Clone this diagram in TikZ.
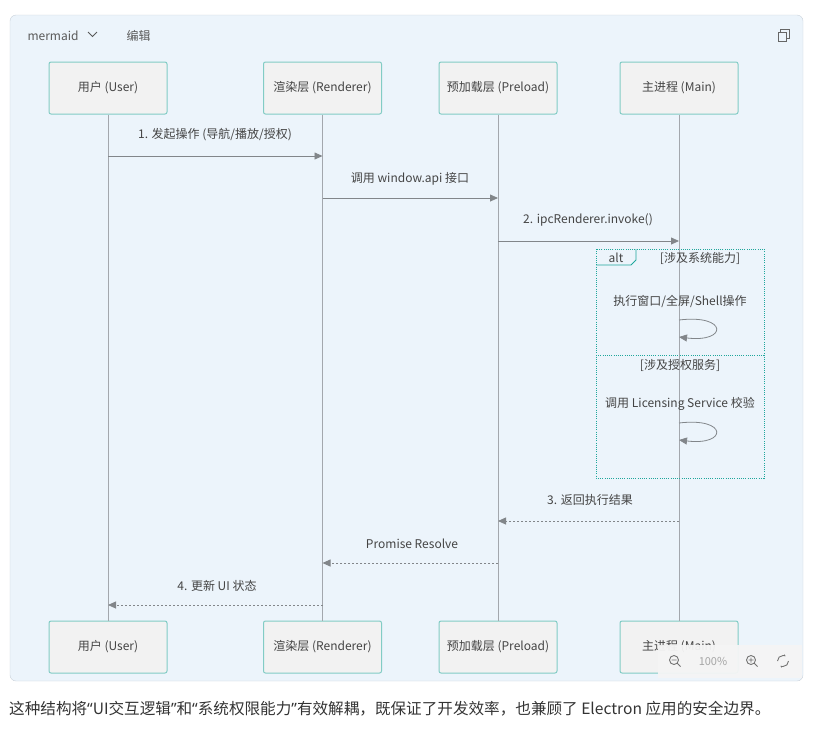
\documentclass[tikz,border=0pt]{standalone}
\usepackage{fontspec}
\setmainfont{Noto Sans CJK SC}
\newfontfamily\latinquote{Noto Sans}
\usepackage{xcolor}
\usetikzlibrary{positioning,arrows.meta}

\definecolor{panelbg}{HTML}{ECF4FB}
\definecolor{panelline}{HTML}{C9D1D9}
\definecolor{actorbg}{HTML}{F2F2F2}
\definecolor{actorline}{HTML}{82CCC5}
\definecolor{lifegrey}{HTML}{A3A7AD}
\definecolor{textgrey}{HTML}{444444}
\definecolor{altline}{HTML}{1FA79C}

\newcommand{\openq}{{\latinquote “}}
\newcommand{\closeq}{{\latinquote ”}}

\begin{document}
\begin{tikzpicture}[x=1pt, y=-1pt,
    every node/.style={font=\fontsize{12}{14}\selectfont, text=textgrey},
    actor/.style={draw=actorline, fill=actorbg, line width=1pt, rounded corners=2pt, minimum width=118pt, minimum height=52pt, inner sep=0pt},
    lifeline/.style={draw=lifegrey, line width=0.8pt},
    msg/.style={draw=lifegrey!80!black, line width=0.8pt, -{Triangle[length=8pt,width=7pt]}},
    reply/.style={msg, dash pattern=on 2pt off 2pt},
    altbox/.style={draw=altline, line width=1pt, dash pattern=on 1pt off 1.2pt},
    label/.style={inner sep=1pt}
]
\useasboundingbox (0,0) rectangle (824,734);

% panel
\filldraw[fill=panelbg, draw=panelline, rounded corners=6pt] (10,15) rectangle (803,681);
\node[anchor=west, text=black!65] (lang) at (24,36) {mermaid};
\draw[black!65, line width=0.8pt] (88,32) -- (92.5,36.5) -- (97,32);
\node[anchor=west, text=black!65] (edit) at (123,36) {编辑};
\draw[black!60, line width=0.9pt] (778,32) rectangle (786,41);
\draw[black!60, line width=0.9pt] (780,32) -- (780,29) -- (789,29) -- (789,38) -- (786,38);

% actors
\node[actor] (userTop) at (108,88) {用户 (User)};
\node[actor] (rendTop) at (322.5,88) {渲染层 (Renderer)};
\node[actor] (preTop)  at (498,88) {预加载层 (Preload)};
\node[actor] (mainTop) at (679,88) {主进程 (Main)};
\node[actor] (userBot) at (108,647) {用户 (User)};
\node[actor] (rendBot) at (322.5,647) {渲染层 (Renderer)};
\node[actor] (preBot)  at (498,647) {预加载层 (Preload)};
\node[actor] (mainBot) at (679,647) {主进程 (Main)};

% lifelines
\draw[lifeline] (userTop) -- (userBot);
\draw[lifeline] (rendTop) -- (rendBot);
\draw[lifeline] (preTop) -- (preBot);
\draw[lifeline] (mainTop) -- (mainBot);

% requests
\node[label] (m1) at (215,135) {1. 发起操作 (导航/播放/授权)};
\draw[msg] (userTop.south |- 0,156) -- (rendTop.south |- 0,156);
\node[label] (m2) at (410,179) {调用 window.api 接口};
\draw[msg] (rendTop.south |- 0,198) -- (preTop.south |- 0,198);
\node[label] (m3) at (588,220) {2. ipcRenderer.invoke()};
\draw[msg] (preTop.south |- 0,241) -- (mainTop.south |- 0,241);

% alt block
\draw[altbox] (596,249) rectangle (764,478);
\draw[altbox] (596,355) -- (764,355);
\draw[altline, line width=0.8pt] (596,265) -- (631,265) -- (636,260) -- (636,249);
\node[label] (alt) at (616,257.5) {alt};
\node[label] (c1) at (700,258) {[涉及系统能力]};
\node[label] (s1) at (680,301) {执行窗口/全屏/Shell操作};
\draw[msg] (mainTop.south |- 0,320) .. controls (728,314) and (728,343) .. (mainTop.south |- 0,337);
\node[label] (c2) at (680,365) {[涉及授权服务]};
\node[label] (s2) at (680,404) {调用 Licensing Service 校验};
\draw[msg] (mainTop.south |- 0,423) .. controls (728,417) and (728,446) .. (mainTop.south |- 0,440);

% replies
\node[label] (r1) at (590,500) {3. 返回执行结果};
\draw[reply] (mainTop.south |- 0,521) -- (preTop.south |- 0,521);
\node[label] (r2) at (412,544) {Promise Resolve};
\draw[reply] (preTop.south |- 0,563) -- (rendTop.south |- 0,563);
\node[label] (r3) at (217,586) {4. 更新 UI 状态};
\draw[reply] (rendTop.south |- 0,605) -- (userTop.south |- 0,605);

% zoom bar
\fill[black!4, opacity=0.95] (658,645) rectangle (802,678);
\draw[black!55, line width=0.9pt] (674,660) circle (4.5pt) (671.5,660) -- (676.5,660) (677.5,663.5) -- (680.5,666.5);
\node[text=black!35, font=\fontsize{11}{13}\selectfont] (pct) at (713,661) {100\%};
\draw[black!55, line width=0.9pt] (751,660) circle (4.5pt) (748.5,660) -- (753.5,660) (751,657.5) -- (751,662.5) (754.5,663.5) -- (757.5,666.5);
\draw[black!55, line width=0.9pt, -{Stealth[length=2.5pt]}] (777.5,661) arc (180:60:5.5pt);
\draw[black!55, line width=0.9pt, -{Stealth[length=2.5pt]}] (788.5,661) arc (0:-120:5.5pt);

% caption
\node[anchor=west, inner sep=0pt, text=black!80, font=\fontsize{15.6}{18}\selectfont] (caption) at (9,709) {这种结构将\openq UI交互逻辑\closeq 和\openq 系统权限能力\closeq 有效解耦，既保证了开发效率，也兼顾了 Electron 应用的安全边界。};
\end{tikzpicture}
\end{document}
